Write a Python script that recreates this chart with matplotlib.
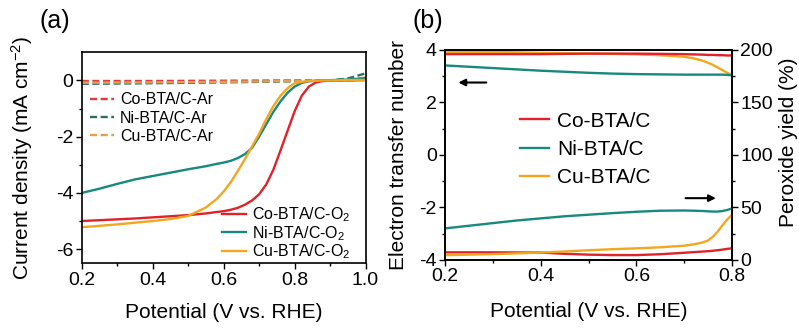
import numpy as np
import matplotlib
matplotlib.use("Agg")
import matplotlib.pyplot as plt

plt.rcParams['font.family'] = ['Liberation Sans', 'DejaVu Sans']
plt.rcParams['mathtext.fontset'] = 'custom'
plt.rcParams['mathtext.rm'] = 'Liberation Sans'
plt.rcParams['mathtext.it'] = 'Liberation Sans:italic'
plt.rcParams['mathtext.default'] = 'regular'
plt.rcParams['axes.unicode_minus'] = False

# ---- panel (a): LSV curves ----
x_lsv = [0.20, 0.25, 0.30, 0.35, 0.40, 0.45, 0.50, 0.55, 0.58, 0.60, 0.62, 0.64, 0.66,
         0.68, 0.70, 0.72, 0.74, 0.76, 0.78, 0.80, 0.82, 0.84, 0.86, 0.88, 0.90, 0.95, 1.00]
j_co = [-5.00, -4.97, -4.94, -4.91, -4.87, -4.83, -4.79, -4.73, -4.68, -4.65, -4.60, -4.53, -4.42,
        -4.27, -4.05, -3.70, -3.18, -2.50, -1.80, -1.10, -0.55, -0.22, -0.07, -0.02, 0.00, 0.00, 0.01]
j_ni = [-4.00, -3.85, -3.68, -3.52, -3.40, -3.28, -3.16, -3.05, -2.97, -2.92, -2.86, -2.76, -2.62,
        -2.40, -2.00, -1.56, -1.12, -0.75, -0.44, -0.22, -0.09, -0.03, -0.01, 0.00, 0.01, 0.03, 0.08]
j_cu = [-5.22, -5.17, -5.12, -5.06, -5.00, -4.93, -4.82, -4.52, -4.22, -3.95, -3.62, -3.22, -2.80,
        -2.35, -1.90, -1.38, -0.92, -0.55, -0.28, -0.10, -0.05, -0.02, -0.01, 0.00, 0.00, 0.01, 0.02]

x_ar = [0.20, 0.40, 0.60, 0.80, 0.90, 0.95, 1.00]
j_co_ar = [-0.02, -0.02, -0.01, 0.00, 0.00, 0.01, 0.03]
j_ni_ar = [-0.12, -0.10, -0.07, -0.03, 0.00, 0.07, 0.25]
j_cu_ar = [-0.08, -0.07, -0.05, -0.02, 0.00, 0.03, 0.10]

# ---- panel (b): RRDE ----
x_rrde = [0.20, 0.25, 0.30, 0.35, 0.40, 0.45, 0.50, 0.55, 0.60, 0.65, 0.70,
          0.72, 0.74, 0.75, 0.76, 0.77, 0.78, 0.79, 0.80]
n_co = [3.83, 3.83, 3.83, 3.83, 3.83, 3.84, 3.85, 3.85, 3.85, 3.84, 3.83,
        3.82, 3.81, 3.80, 3.80, 3.79, 3.79, 3.78, 3.78]
n_ni = [3.40, 3.35, 3.30, 3.25, 3.20, 3.16, 3.12, 3.09, 3.07, 3.06, 3.05,
        3.05, 3.05, 3.05, 3.05, 3.05, 3.05, 3.04, 3.02]
n_cu = [3.92, 3.92, 3.91, 3.90, 3.88, 3.87, 3.85, 3.84, 3.82, 3.79, 3.73,
        3.67, 3.57, 3.50, 3.42, 3.32, 3.22, 3.12, 3.03]
h2o2_co = [7.2, 7.2, 7.2, 7.1, 7.0, 5.8, 5.0, 4.6, 4.6, 5.4, 6.8,
           7.4, 8.0, 8.3, 8.7, 9.2, 9.8, 10.5, 11.0]
h2o2_ni = [30.0, 32.5, 35.0, 37.5, 39.5, 41.5, 43.0, 44.5, 45.8, 46.8, 47.0,
           46.8, 46.5, 46.2, 46.0, 46.0, 46.5, 47.5, 49.0]
h2o2_cu = [4.5, 5.0, 5.5, 6.2, 7.0, 8.0, 9.2, 10.2, 11.0, 12.0, 13.5,
           14.8, 16.8, 18.5, 22.0, 27.0, 33.0, 38.5, 43.0]

red = '#e0222a'
teal = '#17897d'
orange = '#f2a71f'
red_d = '#e23a40'
teal_d = '#2c6f62'
orange_d = '#e2a050'

fs_tick = 14
fs_lab = 15
lw = 1.7

fig = plt.figure(figsize=(7.99, 3.29), dpi=100)

def style(ax):
    ax.tick_params(which='major', length=4, width=1, labelsize=fs_tick, pad=2)
    ax.tick_params(which='minor', length=2.5, width=1)
    for s in ax.spines.values():
        s.set_linewidth(1.2)

# (a)
ax1 = fig.add_axes([0.1023, 0.2, 0.3552, 0.641])
ax1.plot(x_ar, j_co_ar, color=red_d, lw=lw, dashes=(3, 1.5), label='Co-BTA/C-Ar')
ax1.plot(x_ar, j_ni_ar, color=teal_d, lw=lw, dashes=(3, 1.5), label='Ni-BTA/C-Ar')
ax1.plot(x_ar, j_cu_ar, color=orange_d, lw=lw, dashes=(3, 1.5), label='Cu-BTA/C-Ar')
ax1.plot(x_lsv, j_co, color=red, lw=lw, label='Co-BTA/C-O$_2$')
ax1.plot(x_lsv, j_ni, color=teal, lw=lw, label='Ni-BTA/C-O$_2$')
ax1.plot(x_lsv, j_cu, color=orange, lw=lw, label='Cu-BTA/C-O$_2$')
ax1.set_xlim(0.2, 1.0)
ax1.set_ylim(-6.5, 1.0)
ax1.set_xticks([0.2, 0.4, 0.6, 0.8, 1.0])
ax1.set_xticks([0.3, 0.5, 0.7, 0.9], minor=True)
ax1.set_yticks([0, -2, -4, -6])
ax1.set_yticks([-1, -3, -5], minor=True)
style(ax1)
ax1.set_xlabel('Potential (V vs. RHE)', fontsize=fs_lab)
ax1.set_ylabel('Current density (mA cm$^{-2}$)', fontsize=fs_lab)
ax1.xaxis.set_label_coords(0.5, -0.19)
ax1.yaxis.set_label_coords(-0.165, 0.5)
h, l = ax1.get_legend_handles_labels()
leg1 = ax1.legend(h[:3], l[:3], loc='upper left', bbox_to_anchor=(0.03, 0.81),
                  frameon=False, fontsize=11.5, handlelength=1.5, handletextpad=0.35,
                  labelspacing=0.2, borderpad=0, borderaxespad=0)
ax1.add_artist(leg1)
ax1.legend(h[3:], l[3:], loc='upper left', bbox_to_anchor=(0.495, 0.275),
           frameon=False, fontsize=11.5, handlelength=1.5, handletextpad=0.35,
           labelspacing=0.0, borderpad=0, borderaxespad=0)
fig.text(0.069, 0.935, '(a)', fontsize=18, ha='center', va='center')

# (b)
ax2 = fig.add_axes([0.557, 0.21, 0.3592, 0.639])
ax2.plot(x_rrde, n_cu, color=orange, lw=lw)
ax2.plot(x_rrde, n_co, color=red, lw=lw)
ax2.plot(x_rrde, n_ni, color=teal, lw=lw)
ax2.set_xlim(0.2, 0.8)
ax2.set_ylim(-4, 4)
ax2.set_xticks([0.2, 0.4, 0.6, 0.8])
ax2.set_xticks([0.3, 0.5, 0.7], minor=True)
ax2.set_yticks([4, 2, 0, -2, -4])
ax2.set_yticks([3, 1, -1, -3], minor=True)
ax3 = ax2.twinx()
ax3.plot(x_rrde, h2o2_co, color=red, lw=lw, label='Co-BTA/C')
ax3.plot(x_rrde, h2o2_ni, color=teal, lw=lw, label='Ni-BTA/C')
ax3.plot(x_rrde, h2o2_cu, color=orange, lw=lw, label='Cu-BTA/C')
ax3.set_ylim(0, 200)
ax3.set_yticks([0, 50, 100, 150, 200])
ax3.set_yticks([25, 75, 125, 175], minor=True)
style(ax2)
style(ax3)
ax2.set_xlabel('Potential (V vs. RHE)', fontsize=fs_lab)
ax2.set_ylabel('Electron transfer number', fontsize=fs_lab)
ax3.set_ylabel('Peroxide yield (%)', fontsize=fs_lab)
ax2.xaxis.set_label_coords(0.5, -0.2)
ax2.yaxis.set_label_coords(-0.13, 0.5)
ax3.yaxis.set_label_coords(1.165, 0.56)
ax3.legend(loc='center left', bbox_to_anchor=(0.26, 0.525), frameon=False,
           fontsize=15, handlelength=1.4, handletextpad=0.4, labelspacing=0.45,
           borderpad=0, borderaxespad=0)
ax2.annotate('', xy=(0.222, 2.75), xytext=(0.292, 2.75),
             arrowprops=dict(arrowstyle='-|>', color='black', lw=1.5, mutation_scale=10))
ax2.annotate('', xy=(0.772, -1.65), xytext=(0.697, -1.65),
             arrowprops=dict(arrowstyle='-|>', color='black', lw=1.5, mutation_scale=10))
fig.text(0.535, 0.935, '(b)', fontsize=18, ha='center', va='center')

fig.savefig('out.png', dpi=100)
